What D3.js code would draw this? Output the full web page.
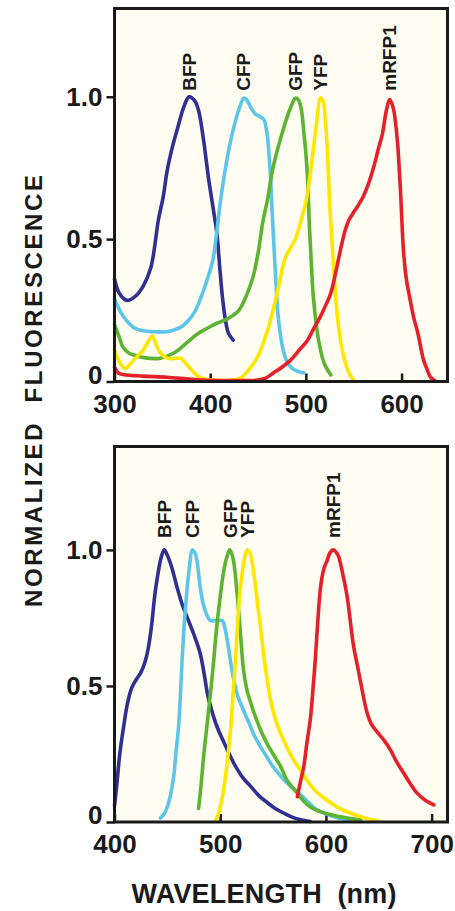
<!DOCTYPE html>
<html><head><meta charset="utf-8">
<script src="https://cdn.jsdelivr.net/npm/d3@7"></script>
<style>html,body{margin:0;padding:0;background:#fff;} svg{display:block}</style>
</head><body>
<svg id="chart" width="455" height="911"></svg>
<script>
// ---------- DATA ----------
const proteins = ["BFP", "CFP", "GFP", "YFP", "mRFP1"];

// Excitation spectra (top panel): [wavelength nm, normalized value]
const excitationBFP = [[300,0.36],[305,0.31],[313,0.285],[322,0.30],[330,0.335],[338,0.40],[346,0.57],[351,0.65],[355,0.74],[361,0.83],[366,0.89],[372,0.96],[378,1.0],[384,0.985],[388,0.95],[393,0.85],[398,0.72],[403,0.61],[407,0.52],[410,0.40],[413,0.29],[416,0.215],[419,0.17],[424,0.145]];
const excitationCFP = [[300,0.29],[309,0.23],[320,0.19],[330,0.178],[340,0.175],[355,0.175],[363,0.182],[369,0.19],[376,0.21],[383,0.24],[388,0.275],[393,0.32],[398,0.37],[403,0.43],[407,0.53],[411,0.64],[416,0.75],[421,0.84],[426,0.91],[431,0.965],[435,0.995],[438,0.99],[442,0.965],[447,0.94],[452,0.93],[456,0.92],[459,0.88],[461,0.82],[463,0.72],[465,0.58],[467,0.45],[469,0.33],[471,0.23],[474,0.15],[477,0.10],[481,0.065],[486,0.045],[492,0.035],[498,0.03]];
const excitationGFP = [[300,0.20],[305,0.155],[309,0.12],[315,0.10],[320,0.093],[334,0.082],[348,0.082],[362,0.10],[370,0.12],[379,0.146],[388,0.17],[397,0.187],[404,0.20],[411,0.21],[418,0.22],[425,0.235],[430,0.25],[435,0.28],[440,0.32],[445,0.37],[450,0.45],[455,0.56],[460,0.64],[465,0.74],[470,0.81],[475,0.87],[480,0.925],[485,0.97],[489,0.995],[492,0.99],[495,0.96],[498,0.87],[500,0.80],[502,0.70],[503.5,0.56],[505,0.46],[508,0.29],[513,0.15],[519,0.065],[526,0.023]];
const excitationYFP = [[300,0.11],[305,0.07],[311,0.045],[316,0.06],[320,0.075],[330,0.11],[336,0.145],[339.5,0.16],[344,0.125],[348,0.10],[355,0.082],[362,0.08],[369,0.082],[374,0.065],[379,0.047],[385,0.025],[390,0.014],[397,0.007],[405,0.004],[418,0.003],[425,0.006],[432,0.012],[440,0.04],[450,0.09],[460,0.18],[470,0.31],[478,0.43],[484,0.47],[489,0.50],[494,0.555],[500,0.63],[505,0.74],[509,0.85],[512,0.93],[515,0.995],[518,0.985],[520,0.93],[522.5,0.81],[524.5,0.65],[526,0.56],[529,0.40],[533,0.227],[538,0.11],[545,0.03],[550,0.005]];
const excitationMRFP1 = [[300,0.05],[304,0.03],[310,0.024],[330,0.019],[355,0.015],[380,0.008],[400,0.004],[425,0.003],[449,0.005],[458,0.012],[466,0.03],[475,0.05],[484,0.075],[493,0.11],[502,0.146],[508,0.185],[515,0.227],[521,0.27],[526,0.31],[531,0.38],[536,0.46],[541,0.53],[545,0.567],[550,0.595],[554,0.615],[560,0.65],[566,0.70],[571,0.755],[576,0.82],[580,0.87],[584,0.95],[587.5,0.99],[590,0.975],[592,0.95],[594,0.90],[596,0.83],[599,0.66],[602,0.46],[605,0.36],[609,0.286],[613,0.22],[617,0.17],[620,0.12],[623,0.075],[627,0.04],[630,0.016],[635,0.002]];

// Emission spectra (bottom panel)
const emissionBFP = [[400,0.06],[402,0.13],[405,0.25],[409,0.36],[412,0.43],[416,0.49],[420,0.52],[425,0.55],[429,0.59],[432,0.64],[435,0.72],[438,0.83],[441,0.91],[444,0.97],[447,1.0],[450,0.98],[453,0.95],[456,0.91],[459,0.865],[464,0.80],[470,0.74],[475,0.69],[481,0.62],[485,0.54],[488,0.47],[492,0.41],[497,0.35],[505,0.28],[513,0.215],[521,0.165],[529,0.13],[537,0.095],[545,0.07],[552,0.05],[560,0.033],[568,0.018],[576,0.008],[585,0.002]];
const emissionCFP = [[443.5,0.015],[447,0.03],[450,0.056],[453,0.10],[456,0.167],[458,0.25],[460.6,0.35],[462.5,0.48],[464,0.60],[465.5,0.70],[467,0.78],[469,0.87],[471,0.94],[473.5,1.0],[476,0.99],[478,0.96],[481,0.865],[484,0.80],[488,0.755],[491,0.74],[502,0.74],[504,0.72],[506.6,0.67],[509,0.61],[511,0.56],[516,0.47],[521,0.42],[526,0.375],[532,0.32],[538,0.277],[544,0.24],[550,0.203],[557,0.17],[563,0.143],[570,0.12],[576,0.10],[584,0.07],[592,0.044],[600,0.03],[607,0.02],[615,0.012],[623,0.007]];
const emissionGFP = [[479.5,0.05],[482,0.14],[484,0.23],[486.5,0.32],[489,0.41],[491.5,0.50],[494,0.60],[496,0.69],[498.5,0.78],[501,0.86],[503,0.915],[506,0.97],[509,1.0],[511,0.985],[513,0.95],[516,0.84],[519,0.70],[522,0.56],[525,0.49],[528.7,0.44],[533,0.39],[538,0.34],[544,0.29],[550,0.25],[557,0.205],[563,0.155],[570,0.12],[576,0.09],[582,0.065],[590,0.045],[601,0.03],[612,0.02],[623,0.013],[633,0.007]];
const emissionYFP = [[495.6,0.007],[498,0.025],[500,0.056],[502.5,0.10],[505,0.167],[507.5,0.25],[510,0.35],[512,0.46],[514.5,0.60],[516,0.70],[517.5,0.79],[519,0.86],[521,0.92],[523,0.97],[525.6,1.0],[528,0.99],[530,0.96],[533.4,0.865],[536,0.78],[538,0.72],[541,0.62],[543,0.56],[547.6,0.45],[552,0.38],[557,0.327],[563,0.275],[569.4,0.228],[576,0.19],[582,0.154],[590,0.115],[601,0.08],[612,0.052],[623,0.033],[634,0.018],[645,0.007],[650,0.003]];
const emissionMRFP1 = [[573,0.093],[576,0.15],[579,0.203],[582,0.29],[585.5,0.387],[588,0.50],[590,0.60],[592,0.72],[595,0.865],[598,0.93],[601,0.96],[604,0.99],[607,1.0],[610,0.99],[612,0.975],[616,0.91],[620,0.83],[626,0.65],[630,0.57],[633,0.51],[639,0.40],[643,0.36],[648.6,0.33],[655,0.30],[661,0.265],[667,0.22],[673.5,0.18],[680,0.14],[686,0.107],[694,0.08],[702,0.063]];

const yTickValues = [0, 0.5, 1.0];
const yTickLabels = ["0", "0.5", "1.0"];
const excitationXTicks = [300, 400, 500, 600];
const emissionXTicks = [400, 500, 600, 700];
const yTitle = "NORMALIZED  FLUORESCENCE";
const xTitle = "WAVELENGTH  (nm)";

// ---------- STYLE ----------
const colorOf = {BFP:"#2f3091", CFP:"#5dc6e8", GFP:"#5cb432", YFP:"#fde600", mRFP1:"#e5202a"};
const FONT = "'Liberation Sans', Arial, Helvetica, sans-serif";
const INK = "#1a1a1a";

const svg = d3.select("#chart");

function panel(o) {
  const x = d3.scaleLinear().domain(o.xDomain).range([o.left, o.right]);
  const y = d3.scaleLinear().domain([0, o.yMax]).range([o.bottom, o.top]);

  svg.append("rect").attr("x", o.left).attr("y", o.top)
    .attr("width", o.right - o.left).attr("height", o.bottom - o.top)
    .attr("fill", "#fffcf2");

  // x axis (ticks pointing inward)
  const gx = svg.append("g").attr("transform", `translate(0,${o.bottom})`)
    .call(d3.axisBottom(x).tickValues(o.xTicks).tickFormat(d3.format("d"))
      .tickSizeInner(-8).tickSizeOuter(0).tickPadding(13));
  gx.select(".domain").remove();
  gx.selectAll(".tick line").attr("stroke", INK).attr("stroke-width", 2.5);
  gx.selectAll(".tick text").attr("font-family", FONT).attr("font-weight", "bold")
    .attr("font-size", 26).attr("fill", INK);

  // y axis (ticks pointing outward)
  const gy = svg.append("g").attr("transform", `translate(${o.left},0)`)
    .call(d3.axisLeft(y).tickValues(yTickValues).tickFormat((d, i) => yTickLabels[i])
      .tickSize(8).tickPadding(4));
  gy.select(".domain").remove();
  gy.selectAll(".tick line").attr("stroke", INK).attr("stroke-width", 2.5);
  gy.selectAll(".tick text").attr("font-family", FONT).attr("font-weight", "bold")
    .attr("font-size", 26).attr("fill", INK)
    .attr("dy", d => d === 0 ? "0.06em" : "0.34em");

  const line = d3.line().x(d => x(d[0])).y(d => y(d[1])).curve(d3.curveCatmullRom.alpha(0.5));

  proteins.forEach((p, i) => {
    const data = o.series[i];
    svg.append("path").datum(data).attr("d", line)
      .attr("fill", "none").attr("stroke", colorOf[p]).attr("stroke-width", 3.6)
      .attr("stroke-linecap", "round").attr("stroke-linejoin", "round");
  });

  proteins.forEach((p, i) => {
    const peak = d3.greatest(o.series[i], d => d[1]);
    svg.append("text")
      .attr("transform", `translate(${x(peak[0]) + 6.8},${y(1) - o.labelOffset}) rotate(-90)`)
      .attr("font-family", FONT).attr("font-weight", "bold").attr("font-size", 19)
      .attr("fill", INK).text(p);
  });

  svg.append("rect").attr("x", o.left).attr("y", o.top)
    .attr("width", o.right - o.left).attr("height", o.bottom - o.top)
    .attr("fill", "none").attr("stroke", INK).attr("stroke-width", 3);
}

panel({
  series: [excitationBFP, excitationCFP, excitationGFP, excitationYFP, excitationMRFP1],
  xDomain: [300, 648], yMax: 1.31, xTicks: excitationXTicks,
  left: 114.5, right: 447.5, top: 8.5, bottom: 381.5, labelOffset: 6
});
panel({
  series: [emissionBFP, emissionCFP, emissionGFP, emissionYFP, emissionMRFP1],
  xDomain: [400, 715], yMax: 1.38, xTicks: emissionXTicks,
  left: 114.5, right: 447.5, top: 446.5, bottom: 822, labelOffset: 12
});

// axis titles
svg.append("text")
  .attr("transform", "translate(41.5,391) rotate(-90)")
  .attr("text-anchor", "middle").attr("font-family", FONT).attr("font-weight", "bold")
  .attr("font-size", 24).attr("fill", INK).style("white-space", "pre")
  .attr("textLength", 432).attr("lengthAdjust", "spacing")
  .text(yTitle);
svg.append("text")
  .attr("x", 264).attr("y", 903)
  .attr("text-anchor", "middle").attr("font-family", FONT).attr("font-weight", "bold")
  .attr("font-size", 27).attr("fill", INK).style("white-space", "pre")
  .attr("textLength", 265).attr("lengthAdjust", "spacing")
  .text(xTitle);
</script>
</body></html>
